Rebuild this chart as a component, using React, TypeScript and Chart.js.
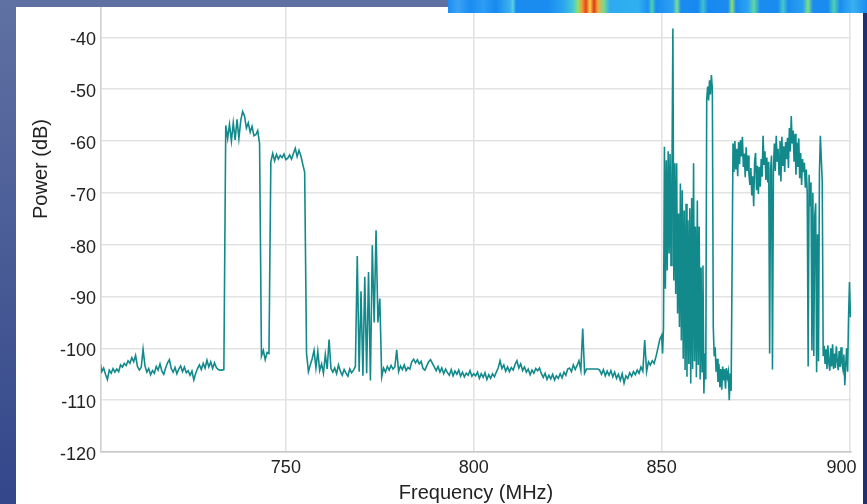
import { useEffect, useRef } from 'react';
import { Chart, registerables } from 'chart.js';

Chart.register(...registerables);

const xTitle = 'Frequency (MHz)';
const yTitle = 'Power (dB)';
const xTickValues = [750, 800, 850, 900];
const yTickValues = [-40, -50, -60, -70, -80, -90, -100, -110, -120];

// Spectrum bins, 700.5 .. 850.0 MHz every 0.5 MHz (one row = 5 MHz)
const coarseStartMHz = 700.5;
const coarseStepMHz = 0.5;
const coarsePower = [
  -102.5, -104.5, -103.8, -105.0, -106.0, -104.2, -104.8, -103.9, -104.6, -104.0,
  -104.5, -103.2, -103.6, -102.9, -103.3, -102.4, -102.9, -101.8, -102.6, -101.4,
  -103.5, -104.2, -103.7, -100.2, -103.4, -104.6, -103.9, -105.1, -104.3, -104.8,
  -103.5, -104.2, -103.0, -104.4, -105.0, -103.8, -102.8, -102.2, -103.9, -104.6,
  -103.7, -104.9, -104.0, -103.4, -104.5, -103.6, -104.7, -104.3, -105.2, -104.4,
  -106.1, -104.8, -103.9, -103.2, -104.1, -102.9, -103.8, -102.3, -103.6, -102.6,
  -103.9, -102.8, -103.7, -104.1, -104.2, -104.2, -104.1, -57.0, -59.5, -56.8,
  -60.0, -56.5, -59.8, -55.8, -59.5, -56.0, -54.3, -55.2, -57.5, -56.5,
  -58.3, -57.2, -59.0, -58.8, -58.0, -60.5, -101.5, -100.4, -102.2, -100.8,
  -101.0, -64.0, -62.4, -63.8, -62.6, -63.5, -62.8, -63.2, -62.5, -63.6,
  -63.3, -62.7, -63.5, -62.4, -61.4, -63.0, -61.8, -62.9, -64.5, -66.0,
  -101.0, -104.5, -103.2, -102.0, -100.4, -103.8, -100.6, -104.3, -103.0, -104.8,
  -101.2, -104.0, -98.3, -103.9, -104.6, -103.8, -104.9, -103.2, -104.4, -105.2,
  -104.1, -104.8, -105.4, -104.0, -104.7, -104.2, -103.5, -82.2, -104.5, -89.0,
  -105.3, -86.2, -104.8, -85.3, -106.2, -80.1, -95.0, -77.2, -95.0, -90.4,
  -105.5, -103.8, -104.6, -103.5, -104.2, -103.3, -104.0, -103.6, -100.3, -104.5,
  -103.4, -104.1, -103.2, -104.3, -103.7, -104.0, -102.6, -102.1, -102.8, -102.2,
  -103.0, -102.5, -103.9, -104.2, -103.4, -102.6, -102.2, -102.9, -103.6, -104.3,
  -103.5, -104.6, -103.8, -104.9, -104.0, -104.7, -105.2, -104.1, -105.3, -104.4,
  -105.0, -104.2, -105.4, -104.6, -105.5, -104.8, -105.2, -104.3, -105.4, -104.9,
  -105.3, -104.6, -105.8, -104.9, -105.6, -104.7, -106.0, -105.1, -105.8, -104.9,
  -105.5, -104.6, -103.8, -102.4, -103.9, -103.2, -104.4, -103.6, -104.5, -103.7,
  -104.2, -103.1, -102.4, -103.8, -103.0, -104.3, -103.6, -104.6, -104.0, -105.1,
  -104.2, -104.8, -103.9, -104.3, -103.8, -104.9, -105.6, -104.8, -106.0, -105.2,
  -105.9, -105.0, -106.1, -105.3, -105.8, -104.9, -105.7, -104.6, -105.2, -104.0,
  -103.8, -104.5, -103.2, -104.1, -103.3, -102.4, -104.2, -96.2, -104.8, -104.0,
  -104.0, -104.0, -104.0, -104.0, -104.0, -104.0, -104.2, -105.0, -104.1, -105.3,
  -104.4, -105.2, -104.3, -105.5, -104.6, -105.8, -105.0, -106.2, -104.9, -106.7,
  -105.3, -105.8, -104.7, -105.4, -104.5, -105.1, -104.2, -104.8, -103.6, -104.4,
  -98.4, -104.5, -102.6, -103.2, -102.4, -102.9, -101.6, -100.0, -98.3, -97.5,
];

// Spectrum bins, 850.25 .. 900.25 MHz every 0.25 MHz (one row = 2.5 MHz)
const fineStartMHz = 850.25;
const fineStepMHz = 0.25;
const finePower = [
  -101.0, -96.0, -61.1, -88.5, -63.7, -85.0, -62.0, -81.7, -62.5, -84.0,
  -66.9, -38.3, -86.9, -64.3, -89.5, -64.3, -93.3, -74.0, -95.9, -68.2,
  -98.5, -69.5, -102.0, -73.4, -104.2, -72.1, -105.5, -75.3, -103.0, -73.0,
  -106.8, -71.0, -104.0, -64.3, -102.5, -76.5, -105.6, -71.5, -103.2, -76.5,
  -106.0, -84.4, -104.5, -84.0, -108.7, -101.0, -106.0, -52.0, -49.5, -52.2,
  -48.3, -51.0, -47.3, -50.0, -96.0, -101.5, -99.8, -104.5, -102.0, -106.5,
  -103.0, -107.5, -104.0, -108.0, -103.5, -106.2, -104.0, -107.8, -103.8, -105.5,
  -104.5, -110.0, -104.8, -108.2, -84.4, -60.5, -66.0, -60.0, -65.5, -61.5,
  -66.8, -60.2, -64.5, -59.8, -63.0, -59.2, -65.0, -62.4, -67.0, -61.2,
  -65.8, -62.8, -66.5, -68.5, -65.2, -70.5, -66.8, -72.6, -64.0, -62.3,
  -69.5, -64.8, -70.2, -65.0, -68.8, -63.5, -66.9, -59.0, -64.5, -62.0,
  -67.5, -63.2, -68.0, -64.0, -101.0, -65.5, -62.8, -104.1, -66.0, -60.5,
  -65.8, -59.0, -64.0, -61.5, -66.5, -60.0, -67.8, -59.2, -64.8, -61.0,
  -66.0, -60.2, -63.5, -59.4, -65.2, -57.5, -62.0, -55.2, -60.5, -58.0,
  -64.0, -58.6, -66.5, -60.3, -65.0, -59.5, -67.2, -62.3, -68.5, -63.5,
  -66.0, -64.2, -69.0, -65.5, -70.0, -103.5, -66.5, -72.5, -68.0, -100.4,
  -70.0, -101.5, -74.5, -72.0, -104.6, -78.0, -102.5, -66.0, -59.0, -63.5,
  -68.0, -101.5, -99.5, -103.0, -100.2, -104.0, -99.4, -102.8, -104.3, -100.0,
  -103.5, -99.2, -104.0, -101.0, -103.8, -99.6, -102.5, -104.2, -100.5, -103.6,
  -99.8, -102.9, -104.0, -101.2, -107.1, -103.0, -100.0, -104.5, -94.0, -87.2,
  -94.0,
];

const FONT = '"Liberation Sans", Arial, sans-serif';

const titlePlugin = {
  id: 'axisTitles',
  beforeDraw(chart: any) {
    // keep the last x label inside the panel, as in the reference
    const xs = chart.scales.x;
    if (!xs || !xs.getLabelItems) return;
    const items = xs.getLabelItems();
    const last = items[items.length - 1];
    if (last && !last._shifted) {
      last.options.translation[0] -= 8;
      last._shifted = true;
    }
  },
  afterDraw(chart: any) {
    const { ctx, chartArea } = chart;
    ctx.save();
    ctx.fillStyle = '#222';
    ctx.font = `20px ${FONT}`;
    ctx.textAlign = 'center';
    ctx.textBaseline = 'middle';
    ctx.fillText(xTitle, (chartArea.left + chartArea.right) / 2, chart.height - 11);
    ctx.translate(chartArea.left - 60, chartArea.top + 162);
    ctx.rotate(-Math.PI / 2);
    ctx.fillText(yTitle, 0, 0);
    ctx.restore();
  },
};

function SpectrumChart() {
  const ref = useRef<HTMLCanvasElement | null>(null);
  useEffect(() => {
    if (!ref.current) return;
    const points = [
      ...coarsePower.map((p, i) => ({ x: coarseStartMHz + i * coarseStepMHz, y: p })),
      ...finePower.map((p, i) => ({ x: fineStartMHz + i * fineStepMHz, y: p })),
    ];
    const chart = new Chart(ref.current, {
      type: 'line',
      data: {
        datasets: [
          {
            data: points,
            borderColor: '#12898a',
            borderWidth: 1.6,
            pointRadius: 0,
            tension: 0,
            fill: false,
          },
        ],
      },
      options: {
        responsive: false,
        animation: false,
        layout: { padding: { left: 0, right: 12, top: 0, bottom: 0 } },
        plugins: { legend: { display: false }, tooltip: { enabled: false } },
        scales: {
          x: {
            type: 'linear',
            min: 700.8,
            max: 900.4,
            afterBuildTicks: (s: any) => {
              s.ticks = xTickValues.map((v) => ({ value: v }));
            },
            afterFit: (s: any) => {
              s.height = 52;
              s.paddingLeft = 0;
              s.paddingRight = 0;
            },
            grid: { color: '#e3e3e3', lineWidth: 1.6, drawTicks: false },
            border: { display: true, color: '#c6c6c6', width: 1.6 },
            ticks: {
              font: { family: FONT, size: 18 },
              color: '#222',
              padding: 5,
              maxRotation: 0,
              autoSkip: false,
              includeBounds: false,
            },
          },
          y: {
            type: 'linear',
            min: -120,
            max: -34.15,
            afterBuildTicks: (s: any) => {
              s.ticks = yTickValues.map((v) => ({ value: v }));
            },
            afterFit: (s: any) => {
              s.width = 85;
              s.paddingTop = 0;
              s.paddingBottom = 0;
            },
            grid: { color: '#e3e3e3', lineWidth: 1.6, drawTicks: false },
            border: { display: true, color: '#cfcfcf', width: 1.6 },
            ticks: {
              font: { family: FONT, size: 18 },
              color: '#222',
              padding: 5,
              labelOffset: 3,
              autoSkip: false,
              includeBounds: false,
            },
          },
        },
      },
      plugins: [titlePlugin],
    });
    return () => chart.destroy();
  }, []);
  return <canvas ref={ref} width={847} height={497} style={{ display: 'block', width: 847, height: 497 }} />;
}

const spectroBg =
  'linear-gradient(90deg, #1b8ef4 0px, #3aa2f2 10px, #1a8cf2 22px, #2c9cf4 35px, #188af0 48px, #3db0f0 62px, #58d0e0 65px, #1a8cf0 68px, #1a8cf0 100px, #2aa4f0 115px, #46c8d8 125px, #8ee070 130px, #f0a030 134px, #e84020 138px, #f8d848 142px, #e03818 146px, #f0b040 150px, #78d890 156px, #2eaaf0 162px, #30b0f0 190px, #1c90f2 200px, #50d0b0 204px, #1a8cf0 208px, #2ea0f2 225px, #7ce090 229px, #1a8cf0 233px, #1888f0 250px, #40c0d0 255px, #1888f0 260px, #1a8cf0 280px, #90e070 284px, #1a8cf0 288px, #2ca4f2 300px, #60d8a0 306px, #1a8cf0 312px, #1a8cf0 330px, #48c8c8 335px, #1a8cf0 340px, #2aa0f0 355px, #80e080 360px, #1a8cf0 365px, #1a8cf0 380px, #50d0b0 386px, #1a8cf0 392px, #3ab0f0 405px, #1a8cf0 419px)';

export default function App() {
  return (
    <div
      style={{
        position: 'fixed',
        left: 0,
        top: 0,
        width: 867,
        height: 504,
        overflow: 'hidden',
        background: 'linear-gradient(180deg, #5f70a2 0%, #4a5c96 50%, #33468a 100%)',
      }}
    >
      <div style={{ position: 'absolute', left: 863, top: 0, width: 4, height: 504, background: '#1f2f6f' }} />
      <div style={{ position: 'absolute', left: 16, top: 7, width: 847, height: 497, background: '#ffffff' }}>
        <SpectrumChart />
      </div>
      <div style={{ position: 'absolute', left: 448, top: 0, width: 419, height: 13, background: spectroBg }} />
    </div>
  );
}
